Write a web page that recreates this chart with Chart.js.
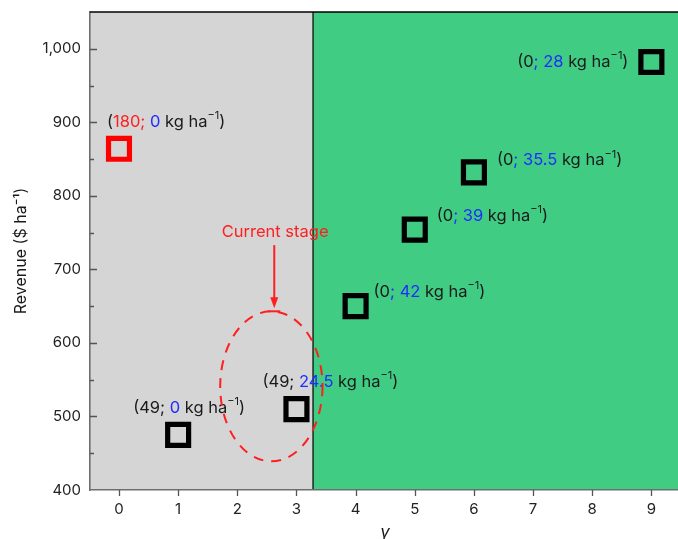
<!DOCTYPE html>
<html>
<head>
<meta charset="utf-8">
<script src="https://cdn.jsdelivr.net/npm/chart.js@4.4.1/dist/chart.umd.min.js"></script>
<style>
  html, body { margin: 0; padding: 0; background: #fff; overflow: hidden; }
  #revChart { display: block; width: 678px; height: 539px; }
</style>
</head>
<body>
<canvas id="revChart" width="678" height="539"></canvas>
<script>
// data
const gammaVals = [0, 1, 3, 4, 5, 6, 9];
const revenue = [864, 475, 510, 650, 754, 832, 982];
const rateA = ['180', '49', '49', '0', '0', '0', '0'];
const rateB = ['0', '0', '24.5', '42', '39', '35.5', '28'];
const yTicks = [400, 500, 600, 700, 800, 900, 1000];
const xTicks = [0, 1, 2, 3, 4, 5, 6, 7, 8, 9];
const highlight = 0;
const splitAt = 3.28;

// label placement (pixels from the point)
const labelDx = [-12, -45, -34, 18, 22, 23, -23];
const labelDy = [-27, -27, -27, -14, -14, -12, 0];
const labelRight = [false, false, false, false, false, false, true];

const RED = '#ff1f1f', BLUE = '#1f2cff', INK = '#1a1a1a';
const FONT = 'Inter, "Liberation Sans", sans-serif';

function segmentsFor(i) {
  if (i === highlight) {
    return [['(', INK], [rateA[i] + '; ', RED], [rateB[i], BLUE], [' kg ha', INK], ['−1', INK, 'sup'], [')', INK]];
  }
  if (rateA[i] === '0') {
    return [['(' + rateA[i], INK], ['; ' + rateB[i], BLUE], [' kg ha', INK], ['−1', INK, 'sup'], [')', INK]];
  }
  return [['(' + rateA[i] + '; ', INK], [rateB[i], BLUE], [' kg ha', INK], ['−1', INK, 'sup'], [')', INK]];
}

function drawRich(ctx, segs, x, y, alignRight) {
  const big = '16.5px ' + FONT, small = '11px ' + FONT;
  let w = 0;
  segs.forEach(s => { ctx.font = s[2] ? small : big; w += ctx.measureText(s[0]).width; });
  let cx = alignRight ? x - w : x;
  ctx.textBaseline = 'middle';
  ctx.textAlign = 'left';
  segs.forEach(s => {
    ctx.font = s[2] ? small : big;
    ctx.fillStyle = s[1];
    ctx.fillText(s[0], cx, s[2] ? y - 6 : y);
    cx += ctx.measureText(s[0]).width;
  });
}

const decor = {
  id: 'decor',
  beforeDraw(chart) {
    const { ctx, chartArea: a, scales: { x } } = chart;
    const xs = x.getPixelForValue(splitAt);
    ctx.save();
    ctx.fillStyle = '#d5d5d5';
    ctx.fillRect(a.left, a.top, xs - a.left, a.bottom - a.top);
    ctx.fillStyle = '#40cc83';
    ctx.fillRect(xs, a.top, a.right - xs, a.bottom - a.top);
    ctx.strokeStyle = '#000';
    ctx.lineWidth = 1.2;
    ctx.beginPath();
    ctx.moveTo(xs, a.top);
    ctx.lineTo(xs, a.bottom);
    ctx.stroke();
    ctx.restore();
  },
  afterDraw(chart) {
    const { ctx, chartArea: a, scales: { x, y } } = chart;
    ctx.save();
    // frame top
    ctx.strokeStyle = '#000';
    ctx.lineWidth = 1.5;
    ctx.beginPath();
    ctx.moveTo(a.left, a.top);
    ctx.lineTo(a.right, a.top);
    ctx.stroke();
    // ticks
    ctx.strokeStyle = '#555';
    ctx.lineWidth = 1.3;
    ctx.beginPath();
    for (let v = 450; v < 1050; v += 50) {
      const py = Math.round(y.getPixelForValue(v)) + 0.5;
      const len = v % 100 === 0 ? 7 : 4;
      ctx.moveTo(a.left, py);
      ctx.lineTo(a.left + len, py);
    }
    xTicks.forEach(v => {
      const px = Math.round(x.getPixelForValue(v)) + 0.5;
      ctx.moveTo(px, a.bottom);
      ctx.lineTo(px, a.bottom + 6);
    });
    ctx.stroke();
    // point labels
    gammaVals.forEach((g, i) => {
      const px = x.getPixelForValue(g), py = y.getPixelForValue(revenue[i]);
      drawRich(ctx, segmentsFor(i), px + labelDx[i], py + labelDy[i], labelRight[i]);
    });
    // current stage ellipse
    const ex = x.getPixelForValue(2.576), ey = y.getPixelForValue(541);
    const rx = x.getPixelForValue(2.576 + 0.865) - ex;
    const ry = ey - y.getPixelForValue(541 + 102);
    ctx.strokeStyle = RED;
    ctx.lineWidth = 2;
    ctx.setLineDash([10, 8]);
    ctx.beginPath();
    ctx.ellipse(ex, ey, rx, ry, 0, 0, Math.PI * 2);
    ctx.stroke();
    ctx.setLineDash([]);
    // arrow
    const ax = x.getPixelForValue(2.625);
    const aTop = y.getPixelForValue(733), aTip = y.getPixelForValue(647), aBar = y.getPixelForValue(643);
    ctx.lineWidth = 2;
    ctx.beginPath();
    ctx.moveTo(ax, aTop);
    ctx.lineTo(ax, aTip - 8);
    ctx.stroke();
    ctx.fillStyle = RED;
    ctx.beginPath();
    ctx.moveTo(ax - 4, aTip - 11);
    ctx.lineTo(ax + 4, aTip - 11);
    ctx.lineTo(ax, aTip);
    ctx.closePath();
    ctx.fill();
    ctx.beginPath();
    ctx.moveTo(ax - 6, aBar);
    ctx.lineTo(ax + 6, aBar);
    ctx.stroke();
    ctx.font = '16.5px ' + FONT;
    ctx.textAlign = 'center';
    ctx.textBaseline = 'middle';
    ctx.fillText('Current stage', x.getPixelForValue(2.64), y.getPixelForValue(751));
    // x axis title
    ctx.fillStyle = INK;
    ctx.font = 'italic 17px ' + FONT;
    ctx.fillText('γ', 385, 533);
    ctx.restore();
  }
};

new Chart(document.getElementById('revChart'), {
  type: 'scatter',
  data: {
    datasets: [{
      data: gammaVals.map((g, i) => ({ x: g, y: revenue[i] })),
      pointStyle: 'rect',
      pointRadius: 14.8,
      pointHoverRadius: 14.8,
      borderWidth: 5.2,
      pointBorderColor: gammaVals.map((g, i) => i === highlight ? '#ff0000' : '#000'),
      backgroundColor: 'rgba(0,0,0,0)'
    }]
  },
  options: {
    responsive: false,
    animation: false,
    events: [],
    layout: { autoPadding: false, padding: { left: 0, top: 12, right: 0, bottom: 0 } },
    plugins: { legend: { display: false }, tooltip: { enabled: false } },
    scales: {
      x: {
        type: 'linear',
        min: -0.49,
        max: 9.45,
        afterBuildTicks: s => { s.ticks = xTicks.map(v => ({ value: v })); },
        afterFit: s => { s.height = 49; s.paddingLeft = 0; s.paddingRight = 0; },
        grid: { display: false, drawTicks: false },
        border: { display: true, color: '#6e6e6e', width: 1.6 },
        ticks: { padding: 10, color: '#222', font: { family: FONT, size: 15 } }
      },
      y: {
        min: 400,
        max: 1050,
        afterBuildTicks: s => { s.ticks = yTicks.map(v => ({ value: v })); },
        afterFit: s => { s.width = 90; s.paddingTop = 0; s.paddingBottom = 0; },
        grid: { display: false, drawTicks: false },
        border: { display: true, color: '#6e6e6e', width: 1.6 },
        ticks: {
          padding: 9,
          color: '#222',
          font: { family: FONT, size: 15 },
          callback: v => v.toLocaleString('en-US')
        },
        title: {
          display: true,
          text: 'Revenue ($ ha⁻¹)',
          color: INK,
          font: { family: FONT, size: 16 },
          padding: { top: 12, bottom: 0 }
        }
      }
    }
  },
  plugins: [decor]
});
</script>
</body>
</html>
